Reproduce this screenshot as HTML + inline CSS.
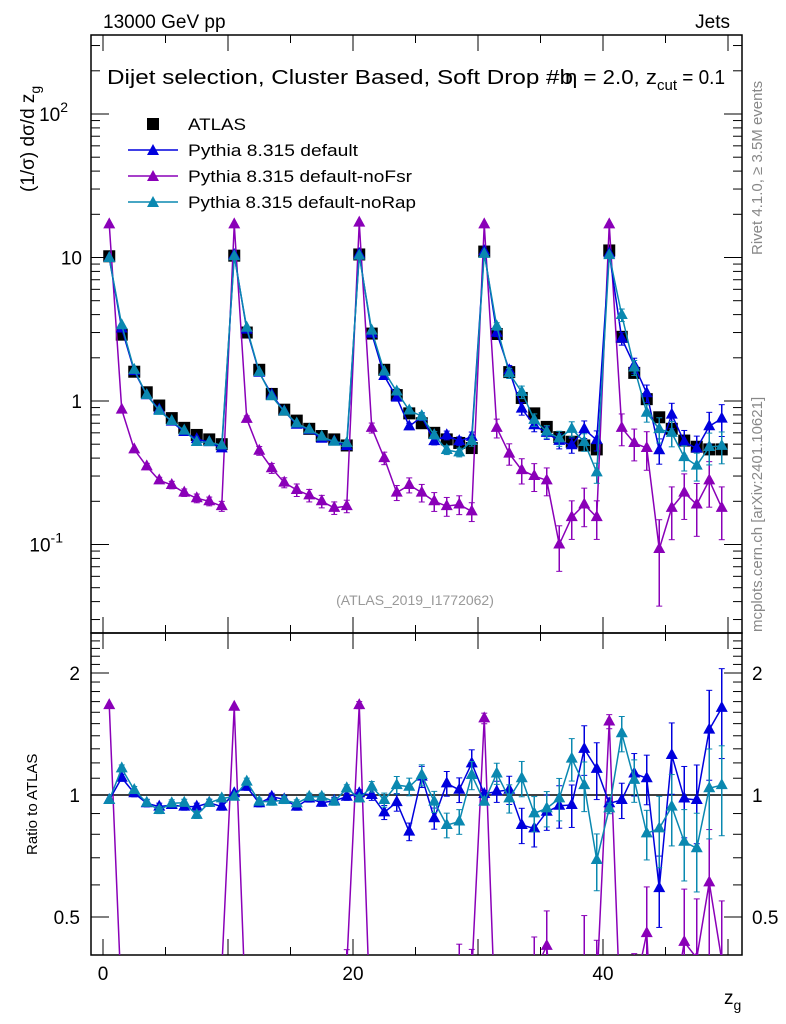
<!DOCTYPE html>
<html><head><meta charset="utf-8"><style>
html,body{margin:0;padding:0;background:#fff;overflow:hidden;width:786px;height:1024px;}
svg{display:block;font-family:"Liberation Sans",sans-serif;}
</style></head><body>
<svg id="c" width="786" height="1024" xmlns="http://www.w3.org/2000/svg">
<defs>
<clipPath id="cm"><rect x="91" y="35" width="651" height="598"/></clipPath>
<clipPath id="cr"><rect x="91" y="633" width="651" height="322"/></clipPath>
</defs>
<text x="103" y="28" font-size="19">13000 GeV pp</text>
<text x="730" y="28" font-size="19" text-anchor="end">Jets</text>
<text x="107" y="84" font-size="20"><tspan textLength="466" lengthAdjust="spacingAndGlyphs">Dijet selection, Cluster Based, Soft Drop #b</tspan><tspan x="565" textLength="92" lengthAdjust="spacingAndGlyphs">η = 2.0, z</tspan><tspan font-size="15" dy="6">cut</tspan><tspan dy="-6" textLength="48" lengthAdjust="spacingAndGlyphs"> = 0.1</tspan></text>
<text x="415" y="605" font-size="14" fill="#999" text-anchor="middle">(ATLAS_2019_I1772062)</text>
<text transform="translate(762,255) rotate(-90)" font-size="15" fill="#888">Rivet 4.1.0, ≥ 3.5M events</text>
<text transform="translate(762,632) rotate(-90)" font-size="15" fill="#888">mcplots.cern.ch [arXiv:2401.10621]</text>
<text transform="translate(34,192) rotate(-90)" font-size="19">(1/σ) dσ/d z<tspan font-size="14" dy="6">g</tspan></text>
<text transform="translate(37,855) rotate(-90)" font-size="15">Ratio to ATLAS</text>
<text x="724" y="1004" font-size="19">z<tspan font-size="14" dy="6">g</tspan></text>
<g id="g"></g>
</svg>
<script>
const categories=[];for(let i=0;i<50;i++)categories.push(i+0.5);
const atlas=[10.2,2.9,1.6,1.15,0.93,0.76,0.65,0.58,0.54,0.50,10.3,3.0,1.65,1.12,0.87,0.73,0.64,0.57,0.54,0.49,10.5,2.95,1.65,1.1,0.82,0.70,0.60,0.54,0.51,0.47,11,2.93,1.59,1.05,0.82,0.66,0.56,0.52,0.49,0.46,11.2,2.8,1.57,1.03,0.77,0.64,0.53,0.48,0.46,0.46];
const ratioDefault=[0.972,1.103,1.01,0.954,0.936,0.945,0.936,0.936,0.957,0.936,1.01,1.048,0.954,0.99,0.976,0.936,0.98,0.957,0.968,0.99,1.01,1,0.906,0.96,0.812,1.11,0.876,1.068,1.03,1.197,1.006,1.02,1.03,0.843,0.827,0.909,0.941,0.945,1.30,1.16,0.954,0.972,1.13,1.10,0.589,1.255,0.98,0.972,1.45,1.64];
const ratioNoRap=[0.972,1.163,1.029,0.957,0.918,0.954,0.957,0.893,0.957,0.981,0.99,1.079,0.963,0.963,0.972,0.954,0.99,0.99,0.963,1.039,0.981,1.048,0.972,1.058,1.048,1.12,0.963,0.843,0.86,1.12,0.963,1.13,0.981,1.10,0.901,0.927,0.981,1.23,1.058,0.691,0.927,1.42,1.09,0.804,0.827,0.936,0.767,0.739,1.039,1.058];
const noFsr=[17,0.87,0.46,0.35,0.28,0.26,0.23,0.21,0.20,0.185,17,0.75,0.45,0.34,0.27,0.24,0.22,0.20,0.18,0.185,17.5,0.65,0.40,0.23,0.26,0.23,0.20,0.185,0.19,0.17,17,0.65,0.43,0.33,0.30,0.28,0.10,0.155,0.19,0.155,17,0.65,0.51,0.47,0.093,0.18,0.23,0.19,0.28,0.18];
const relErr=[0.01,0.02,0.02,0.02,0.02,0.02,0.02,0.02,0.02,0.02,0.01,0.02,0.02,0.02,0.02,0.02,0.02,0.02,0.02,0.02,0.02,0.03,0.04,0.05,0.05,0.06,0.06,0.07,0.07,0.08,0.02,0.06,0.08,0.1,0.1,0.1,0.12,0.12,0.14,0.16,0.03,0.1,0.12,0.14,0.2,0.2,0.2,0.22,0.25,0.25];
const fsrErr=[0.01,0.03,0.04,0.05,0.05,0.06,0.06,0.07,0.07,0.08,0.01,0.05,0.07,0.08,0.08,0.1,0.1,0.1,0.1,0.1,0.02,0.08,0.1,0.12,0.12,0.14,0.15,0.15,0.15,0.15,0.03,0.15,0.17,0.2,0.22,0.22,0.35,0.3,0.3,0.3,0.04,0.25,0.25,0.3,0.6,0.4,0.35,0.4,0.35,0.4];
const mainTicks=[["10","-1"],["1",""],["10",""],["10","2"]];
const ratioTicks=["0.5","1","2"];
const xTicks=["0","20","40"];

const NS="http://www.w3.org/2000/svg";
const G=document.getElementById('g');
function mk(t,a,p){const e=document.createElementNS(NS,t);for(const k in a)e.setAttribute(k,a[k]);(p||G).appendChild(e);return e;}
const X=v=>103+12.5*v;
const Y=v=>401-143.5*Math.log10(v);
const R=v=>795-122*Math.log2(v);
const BLUE="#0000dd",PURP="#8a00b8",TEAL="#0a88b0";
const mcDefault=atlas.map((d,i)=>d*ratioDefault[i]);
const mcNoRap=atlas.map((d,i)=>d*ratioNoRap[i]);

const fm=mk('rect',{x:91,y:35,width:651,height:598,fill:'none',stroke:'#000','stroke-width':1.5});

const fr=mk('rect',{x:91,y:633,width:651,height:322,fill:'none',stroke:'#000','stroke-width':1.5});


for(let v=0;v<=50;v+=5){const L=(v%10===0)?16:8;
 for(const[yb,yt] of [[633,35],[955,633]]){
  mk('line',{x1:X(v),x2:X(v),y1:yb,y2:yb-L,stroke:'#000','stroke-width':1});
  mk('line',{x1:X(v),x2:X(v),y1:yt,y2:yt+L,stroke:'#000','stroke-width':1});}}
xTicks.forEach((t,i)=>{const e=mk('text',{x:X(i*20),y:980,'font-size':19,'text-anchor':'middle'});e.textContent=t;
 });
for(let d=-2;d<=2;d++)for(let m=1;m<10;m++){const v=m*Math.pow(10,d);const y=Y(v);if(y<35||y>633)continue;const L=m===1?18:9;
 mk('line',{x1:91,x2:91+L,y1:y,y2:y,stroke:'#000'});mk('line',{x1:742,x2:742-L,y1:y,y2:y,stroke:'#000'});}
mainTicks.forEach((t,i)=>{const y=Y(Math.pow(10,i-1));const e=mk('text',{x:t[1]?70:82,y:y+7,'font-size':19,'text-anchor':'end'});
 e.textContent=t[0];if(t[1]){const s=mk('tspan',{'font-size':14,dy:-9},e);s.textContent=t[1];e.setAttribute('x',t[1].length>1?63:68);}
 });
for(let v=0.4;v<=2.5;v+=0.1){const y=R(v);if(y<633||y>955)continue;const maj=[0.5,1,2].some(m=>Math.abs(m-v)<1e-6);const L=maj?18:9;
 mk('line',{x1:91,x2:91+L,y1:y,y2:y,stroke:'#000'});mk('line',{x1:742,x2:742-L,y1:y,y2:y,stroke:'#000'});}
ratioTicks.forEach(t=>{const y=R(parseFloat(t));
 const a=mk('text',{x:80,y:y+7,'font-size':19,'text-anchor':'end'});a.textContent=t;
 const b=mk('text',{x:752,y:y+7,'font-size':19});b.textContent=t;});
mk('line',{x1:91,x2:742,y1:R(1),y2:R(1),stroke:'#000','stroke-width':1.5});

const gm=mk('g',{'clip-path':'url(#cm)'});const gr=mk('g',{'clip-path':'url(#cr)'});
function tri(p,x,y,c){return mk('polygon',{points:`${x},${y-7} ${x-6},${y+4} ${x+6},${y+4}`,fill:c},p);}
function series(vals,errs,yf,p,c,name){
 const pts=vals.map((v,i)=>X(categories[i])+','+yf(v)).join(' ');
 const l=mk('polyline',{points:pts,fill:'none',stroke:c,'stroke-width':1.5},p);
 
 vals.forEach((v,i)=>{const x=X(categories[i]);
  const lo=yf(Math.max(v-errs[i],1e-4)),hi=yf(v+errs[i]);
  if(Math.abs(lo-hi)>6){mk('line',{x1:x,x2:x,y1:lo,y2:hi,stroke:c,'stroke-width':1.5},p);
   mk('line',{x1:x-3,x2:x+3,y1:lo,y2:lo,stroke:c},p);mk('line',{x1:x-3,x2:x+3,y1:hi,y2:hi,stroke:c},p);}
  const t=tri(p,x,yf(v),c);});
}
atlas.forEach((v,i)=>{const r=mk('rect',{x:X(categories[i])-6,y:Y(v)-6,width:12,height:12,fill:'#000'},gm);
 });
series(noFsr,noFsr.map((v,i)=>v*fsrErr[i]),Y,gm,PURP,'nofsr');
series(mcDefault,mcDefault.map((v,i)=>v*relErr[i]),Y,gm,BLUE,'default');
series(mcNoRap,mcNoRap.map((v,i)=>v*relErr[i]),Y,gm,TEAL,'norap');
const rf=noFsr.map((v,i)=>v/atlas[i]);
series(rf,rf.map((v,i)=>v*fsrErr[i]),R,gr,PURP,'ratio-nofsr');
series(ratioDefault,ratioDefault.map((v,i)=>v*relErr[i]),R,gr,BLUE,'ratio-default');
series(ratioNoRap,ratioNoRap.map((v,i)=>v*relErr[i]),R,gr,TEAL,'ratio-norap');

const lg=mk('g',{});
const entries=[["ATLAS","#000",0,58],["Pythia 8.315 default",BLUE,1,170],["Pythia 8.315 default-noFsr",PURP,1,224],["Pythia 8.315 default-noRap",TEAL,1,228]];
entries.forEach((e,i)=>{const y=124+26*i;
 if(e[2]){mk('line',{x1:128,x2:178,y1:y,y2:y,stroke:e[1],'stroke-width':1.5},lg);tri(lg,153,y+1,e[1]);}
 else mk('rect',{x:147,y:y-6,width:12,height:12,fill:'#000'},lg);
 const t=mk('text',{x:188,y:y+6,'font-size':17,textLength:e[3],lengthAdjust:'spacingAndGlyphs'},lg);t.textContent=e[0];
 });
</script>
</body></html>
